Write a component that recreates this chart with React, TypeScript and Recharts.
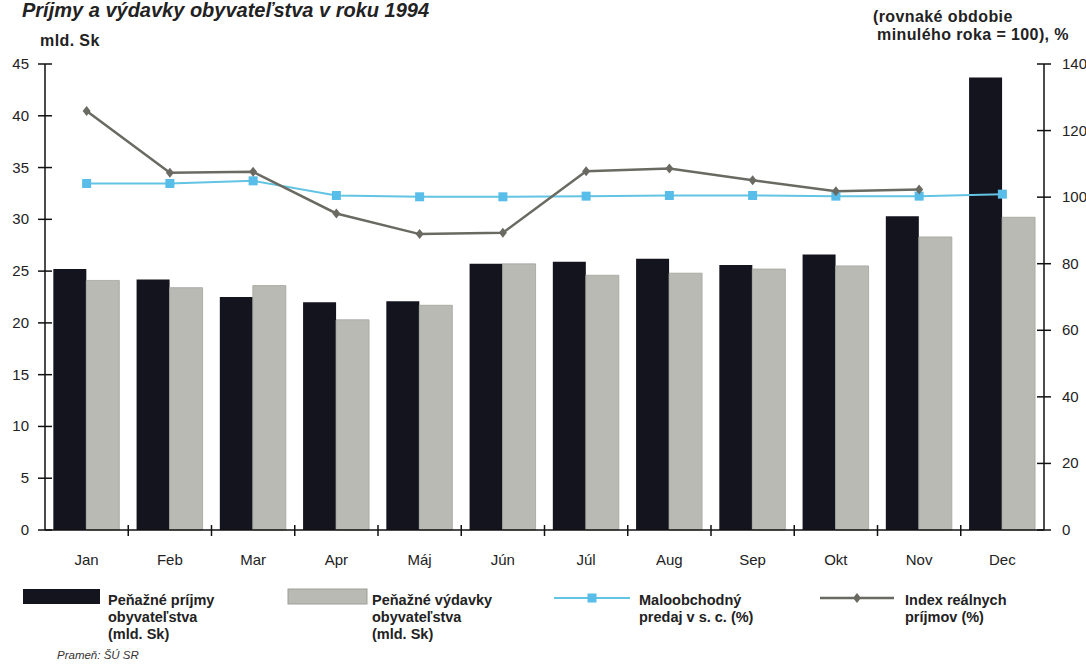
import React from "react";
import {
  Bar,
  ComposedChart,
  Line,
  XAxis,
  YAxis,
} from "recharts";

const months = ["Jan", "Feb", "Mar", "Apr", "Máj", "Jún", "Júl", "Aug", "Sep", "Okt", "Nov", "Dec"];
const prijmy = [25.2, 24.2, 22.5, 22.0, 22.1, 25.7, 25.9, 26.2, 25.6, 26.6, 30.3, 43.7];
const vydavky = [24.1, 23.4, 23.6, 20.3, 21.7, 25.7, 24.6, 24.8, 25.2, 25.5, 28.3, 30.2];
const maloobchod = [104.1, 104.1, 104.9, 100.5, 100.1, 100.1, 100.3, 100.5, 100.5, 100.3, 100.3, 100.9];
const indexRealnych = [125.9, 107.3, 107.6, 95.1, 88.9, 89.3, 107.8, 108.6, 105.1, 101.8, 102.3, null];

const leftTicks = [0, 5, 10, 15, 20, 25, 30, 35, 40, 45];
const rightTicks = [0, 20, 40, 60, 80, 100, 120, 140];

const FONT = "'Liberation Sans', Arial, sans-serif";
const DARK = "#14141f";
const LIGHT = "#b9bab4";
const BLUE = "#62c4e2";
const GREYLINE = "#6a6a62";

const W = 1086;
const H = 672;
const LEFT_W = 45;
const RIGHT_W = 42;
const TOP = 64;
const X_AXIS_H = 30;
const BOTTOM = 112;
const PLOT_BOTTOM = H - BOTTOM - X_AXIS_H;
const BAND = (W - LEFT_W - RIGHT_W) / months.length;

const data = months.map((m, i) => ({
  month: m,
  prijmy: prijmy[i],
  vydavky: vydavky[i],
  maloobchod: maloobchod[i],
  index: indexRealnych[i],
}));

function LeftTick(props: any) {
  const { x, y, payload } = props;
  return (
    <g>
      <line x1={x - 7} x2={x + 7} y1={y} y2={y} stroke="#111" strokeWidth={1.5} />
      <text x={x - 16} y={y} dy={5} textAnchor="end" fontSize={15} fill="#222" fontFamily={FONT}>
        {payload.value}
      </text>
    </g>
  );
}

function RightTick(props: any) {
  const { x, y, payload } = props;
  return (
    <g>
      <line x1={x - 7} x2={x + 7} y1={y} y2={y} stroke="#111" strokeWidth={1.5} />
      <text x={x + 18} y={y} dy={5} textAnchor="start" fontSize={15} fill="#222" fontFamily={FONT}>
        {payload.value}
      </text>
    </g>
  );
}

function MonthTick(props: any) {
  const { x, y, payload } = props;
  return (
    <text x={x} y={y + 30} dy={5} textAnchor="middle" fontSize={15} fill="#222" fontFamily={FONT}>
      {payload.value}
    </text>
  );
}

function SquareDot(props: any) {
  const { cx, cy } = props;
  if (cx == null || cy == null) return null;
  return <rect x={cx - 4.5} y={cy - 4.5} width={9} height={9} fill="#58bde8" />;
}

function DiamondDot(props: any) {
  const { cx, cy, value } = props;
  if (cx == null || cy == null || value == null) return null;
  return (
    <path
      d={`M${cx},${cy - 5} L${cx + 4},${cy} L${cx},${cy + 5} L${cx - 4},${cy} Z`}
      fill={GREYLINE}
    />
  );
}

const legendText = { fontFamily: FONT, fontSize: 14.5, fontWeight: 700, fill: "#222" } as const;
const axisTitle = { fontFamily: FONT, fontSize: 16, fontWeight: 700, fill: "#222", letterSpacing: 0.4 } as const;

export default function App() {
  return (
    <div style={{ position: "absolute", left: 0, top: 0, width: W, height: H, background: "#fff" }}>
      <ComposedChart
        width={W}
        height={H}
        data={data}
        margin={{ top: TOP, right: 0, bottom: BOTTOM, left: 0 }}
        barCategoryGap="10%"
        barGap={0}
      >
        <XAxis
          dataKey="month"
          xAxisId="x"
          height={X_AXIS_H}
          tickSize={0}
          tickMargin={0}
          tickLine={false}
          axisLine={{ stroke: "#111", strokeWidth: 1.5 }}
          tick={<MonthTick />}
          interval={0}
        />
        <YAxis
          yAxisId="left"
          orientation="left"
          width={LEFT_W}
          domain={[0, 45]}
          ticks={leftTicks}
          tickSize={0}
          tickMargin={0}
          tickLine={false}
          axisLine={{ stroke: "#111", strokeWidth: 1.5 }}
          tick={<LeftTick />}
          interval={0}
        />
        <YAxis
          yAxisId="right"
          orientation="right"
          width={RIGHT_W}
          domain={[0, 140]}
          ticks={rightTicks}
          tickSize={0}
          tickMargin={0}
          tickLine={false}
          axisLine={{ stroke: "#111", strokeWidth: 1.5 }}
          tick={<RightTick />}
          interval={0}
        />
        <Bar xAxisId="x" yAxisId="left" dataKey="prijmy" fill={DARK} isAnimationActive={false} />
        <Bar
          xAxisId="x"
          yAxisId="left"
          dataKey="vydavky"
          fill={LIGHT}
          stroke="#a2a39c"
          strokeWidth={0.8}
          isAnimationActive={false}
        />
        <Line
          xAxisId="x"
          yAxisId="right"
          dataKey="maloobchod"
          stroke={BLUE}
          strokeWidth={2}
          dot={<SquareDot />}
          activeDot={false}
          isAnimationActive={false}
        />
        <Line
          xAxisId="x"
          yAxisId="right"
          dataKey="index"
          stroke={GREYLINE}
          strokeWidth={2.5}
          dot={<DiamondDot />}
          activeDot={false}
          isAnimationActive={false}
        />
      </ComposedChart>

      <svg
        width={W}
        height={H}
        style={{ position: "absolute", left: 0, top: 0, pointerEvents: "none" }}
      >
        {/* tick marks between the month categories */}
        {months.slice(1).map((m, i) => {
          const bx = LEFT_W + BAND * (i + 1);
          return (
            <line
              key={m}
              x1={bx}
              x2={bx}
              y1={PLOT_BOTTOM - 5}
              y2={PLOT_BOTTOM + 6}
              stroke="#111"
              strokeWidth={1.5}
            />
          );
        })}

        <text x={22} y={17} fontFamily={FONT} fontSize={20} fontWeight={700} fontStyle="italic" fill="#222">
          Príjmy a výdavky obyvateľstva v roku 1994
        </text>
        <text x={40} y={46} {...axisTitle}>
          mld. Sk
        </text>
        <text x={873} y={22} {...axisTitle}>
          (rovnaké obdobie
        </text>
        <text x={877} y={40} {...axisTitle}>
          minulého roka = 100), %
        </text>

        {/* legend */}
        <rect x={23} y={589} width={77} height={15} fill={DARK} />
        <text x={108} y={605} {...legendText}>Peňažné príjmy</text>
        <text x={108} y={622} {...legendText}>obyvateľstva</text>
        <text x={108} y={639} {...legendText}>(mld. Sk)</text>

        <rect x={288} y={589} width={79} height={15} fill={LIGHT} stroke="#9d9e98" strokeWidth={1} />
        <text x={372} y={605} {...legendText}>Peňažné výdavky</text>
        <text x={372} y={622} {...legendText}>obyvateľstva</text>
        <text x={372} y={639} {...legendText}>(mld. Sk)</text>

        <line x1={554} x2={630} y1={598} y2={598} stroke={BLUE} strokeWidth={2} />
        <rect x={587.5} y={593.5} width={9} height={9} fill="#58bde8" />
        <text x={639} y={605} {...legendText}>Maloobchodný</text>
        <text x={639} y={622} {...legendText}>predaj v s. c. (%)</text>

        <line x1={820} x2={894} y1={598} y2={598} stroke={GREYLINE} strokeWidth={2.5} />
        <path d="M857,593 L861,598 L857,603 L853,598 Z" fill={GREYLINE} />
        <text x={905} y={605} {...legendText}>Index reálnych</text>
        <text x={905} y={622} {...legendText}>príjmov (%)</text>

        <text x={57} y={659} fontFamily={FONT} fontSize={11.5} fontStyle="italic" fill="#333">
          Prameň: ŠÚ SR
        </text>
      </svg>
    </div>
  );
}
